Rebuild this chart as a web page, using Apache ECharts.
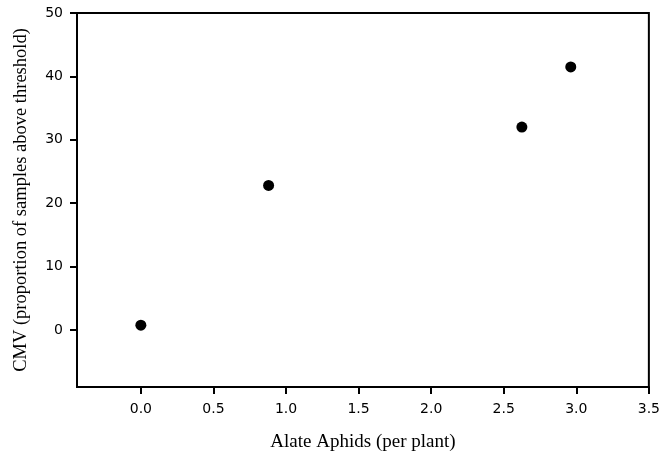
<!DOCTYPE html>
<html>
<head>
<meta charset="utf-8">
<script src="https://cdn.jsdelivr.net/npm/echarts@6/dist/echarts.min.js"></script>
<style>
  html, body { margin: 0; padding: 0; background: #fff; }
  #chart { width: 663px; height: 458px; }
</style>
</head>
<body>
<div id="chart"></div>
<script>
// Alate aphid density vs. CMV incidence
const aphids = [0.0, 0.88, 2.625, 2.962];
const cmv = [0.75, 22.8, 32.0, 41.5];
const xTicks = [0.0, 0.5, 1.0, 1.5, 2.0, 2.5, 3.0, 3.5];
const yTicks = [0, 10, 20, 30, 40, 50];

const points = aphids.map((x, i) => [x, cmv[i]]);

const chart = echarts.init(document.getElementById('chart'), null, { renderer: 'canvas' });

const tickFont = { fontFamily: 'DejaVu Sans', fontSize: 14, color: '#000' };
const titleFont = { fontFamily: 'Liberation Serif', color: '#000' };

chart.setOption({
  animation: false,
  backgroundColor: '#fff',
  grid: {
    left: 77, right: 13, top: 13, bottom: 71,
    show: true, borderColor: '#000', borderWidth: 2, backgroundColor: 'transparent'
  },
  xAxis: {
    type: 'value',
    min: -0.44, max: 3.5,
    name: 'Alate Aphids (per plant)',
    nameLocation: 'middle',
    nameGap: 46,
    nameTextStyle: { ...titleFont, fontSize: 19 },
    axisLine: { show: true, onZero: false, lineStyle: { color: '#000', width: 2 } },
    axisTick: { show: true, customValues: xTicks, length: 7, lineStyle: { color: '#000', width: 2 } },
    axisLabel: {
      customValues: xTicks, margin: 15, ...tickFont,
      formatter: v => Number(v).toFixed(1)
    },
    splitLine: { show: false }
  },
  yAxis: {
    type: 'value',
    min: -9, max: 50,
    name: 'CMV (proportion of samples above threshold)',
    nameLocation: 'middle',
    nameGap: 46,
    nameRotate: 90,
    nameTextStyle: { ...titleFont, fontSize: 18.5 },
    axisLine: { show: true, onZero: false, lineStyle: { color: '#000', width: 2 } },
    axisTick: { show: true, customValues: yTicks, length: 7, lineStyle: { color: '#000', width: 2 } },
    axisLabel: { customValues: yTicks, margin: 14, ...tickFont },
    splitLine: { show: false }
  },
  series: [{
    type: 'scatter',
    data: points,
    symbol: 'circle',
    symbolSize: 11,
    itemStyle: { color: '#000', opacity: 1 }
  }]
});
</script>
</body>
</html>
